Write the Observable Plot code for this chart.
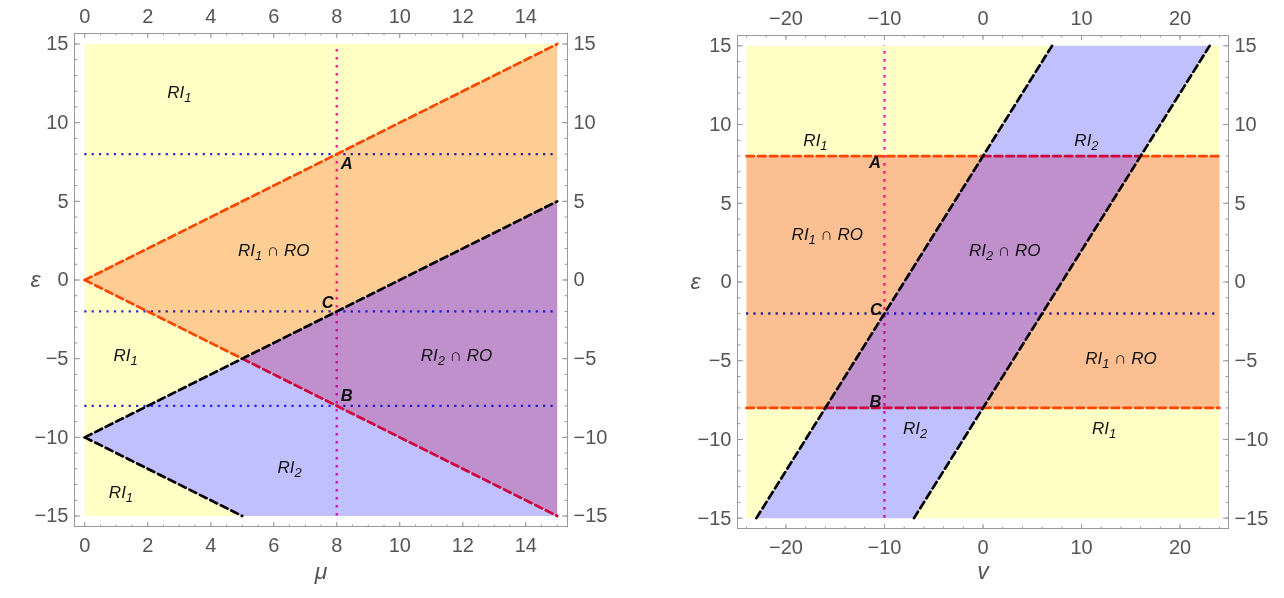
<!DOCTYPE html>
<html>
<head>
<meta charset="utf-8">
<script src="https://cdn.jsdelivr.net/npm/d3@7"></script>
<script src="https://cdn.jsdelivr.net/npm/@observablehq/plot@0.6"></script>
<style>
  body { margin: 0; background: #fff; }
  #wrap { display: flex; width: 1284px; height: 598px; }
  #wrap > div { width: 642px; height: 598px; }
</style>
</head>
<body>
<div id="wrap"><div id="left"></div><div id="right"></div></div>
<script>
// ---------------- DATA ----------------
// Left panel (μ, ε)
const leftXDomain = [0, 15];
const leftYDomain = [-15, 15];
const leftXTicks = [0, 2, 4, 6, 8, 10, 12, 14];
const leftYTicks = [-15, -10, -5, 0, 5, 10, 15];
const leftXMinor = d3.range(0, 15.01, 0.5);
const leftYMinor = d3.range(-15, 15.01, 1);

const leftYellow = [[0, -15], [15, -15], [15, 15], [0, 15]];
const leftOrange = [[0, 0], [15, 15], [15, 5], [5, -5]];
const leftPurple = [[5, -5], [15, 5], [15, -15]];
const leftBlue = [[0, -10], [5, -5], [15, -15], [5, -15]];

const leftRedSegs = [[[0, 0], [15, 15]], [[0, 0], [5, -5]], [[5, -5], [15, -15]]];
const leftBlackSegs = [[[0, -10], [15, 5]], [[0, -10], [5, -15]]];
const leftDotH = [8, -2, -8];
const leftDotV = [8];
const leftPoints = [{name: "A", x: 8, y: 8}, {name: "B", x: 8, y: -8}, {name: "C", x: 8, y: -2}];
const leftLabels = [
  {text: "RI_1", x: 3.0, y: 11.9},
  {text: "RI_1 ∩ RO", x: 6.0, y: 1.9},
  {text: "RI_1", x: 1.3, y: -4.8},
  {text: "RI_2 ∩ RO", x: 11.8, y: -4.8},
  {text: "RI_2", x: 6.5, y: -11.9},
  {text: "RI_1", x: 1.15, y: -13.5}
];

// Right panel (v, ε)
const rightXDomain = [-24, 24];
const rightYDomain = [-15, 15];
const rightXTicks = [-20, -10, 0, 10, 20];
const rightYTicks = [-15, -10, -5, 0, 5, 10, 15];
const rightXMinor = d3.range(-24, 24.01, 2);
const rightYMinor = d3.range(-15, 15.01, 1);

const rightYellow = [[-24, -15], [24, -15], [24, 15], [-24, 15]];
const rightOrange = [[-24, -8], [24, -8], [24, 8], [-24, 8]];
const rightBlue = [[-23, -15], [-7, -15], [23, 15], [7, 15]];
const rightPurple = [[-16, -8], [0, -8], [16, 8], [0, 8]];

const rightRedSegs = [
  [[-24, 8], [0, 8]], [[0, 8], [16, 8]], [[16, 8], [24, 8]],
  [[-24, -8], [-16, -8]], [[-16, -8], [0, -8]], [[0, -8], [24, -8]]
];
const rightBlackSegs = [[[-23, -15], [7, 15]], [[-7, -15], [23, 15]]];
const rightDotH = [-2];
const rightDotV = [-10];
const rightPoints = [{name: "A", x: -10, y: 8}, {name: "B", x: -10, y: -8}, {name: "C", x: -10, y: -2}];
const rightLabels = [
  {text: "RI_1", x: -17, y: 9},
  {text: "RI_2", x: 10.5, y: 9},
  {text: "RI_1 ∩ RO", x: -15.8, y: 3.0},
  {text: "RI_2 ∩ RO", x: 2.2, y: 2.0},
  {text: "RI_1 ∩ RO", x: 14, y: -4.85},
  {text: "RI_2", x: -6.9, y: -9.3},
  {text: "RI_1", x: 12.3, y: -9.3}
];

// ---------------- STYLE ----------------
const C = {
  yellow: "#ffffc6",
  orangeL: "#fecd94",
  orangeR: "#fcbf91",
  blue: "#c0c0ff",
  purple: "#c090cc",
  red: "#ff4500",
  crimson: "#d0003c",
  black: "#000000",
  dotBlue: "#2a2aff",
  dotMag: "#ff1cc8",
  frame: "#9a9a9a",
  tick: "#555555"
};
const FONT = "'Liberation Sans', Arial, Helvetica, sans-serif";

const leftStyle = {
  margins: {marginLeft: 74, marginRight: 75, marginTop: 33, marginBottom: 72},
  insetX: 10.25, insetY: 10.5,
  polys: [[leftYellow, C.yellow], [leftOrange, C.orangeL], [leftPurple, C.purple], [leftBlue, C.blue]],
  redColors: [C.red, C.red, C.crimson],
  pointOffsets: {A: [10, 10], B: [10, -10], C: [-9, -9]},
  yLabel: "ε", yLabelDx: -44, xLabel: "μ", xLabelDy: 52
};
const rightStyle = {
  margins: {marginLeft: 95, marginRight: 56, marginTop: 35, marginBottom: 70},
  insetX: 9, insetY: 10.35,
  polys: [[rightYellow, C.yellow], [rightOrange, C.orangeR], [rightBlue, C.blue], [rightPurple, C.purple]],
  redColors: [C.red, C.crimson, C.red, C.red, C.crimson, C.red],
  pointOffsets: {A: [-9.5, 7], B: [-9, -6.5], C: [-8.5, -4]},
  yLabel: "ε", yLabelDx: -47, xLabel: "v", xLabelDy: 50
};

function toPts(arr) { return arr.map(([x, y]) => ({x, y})); }

function panel(d, s) {
  const W = 642, H = 598;
  const m = s.margins;
  const fw = W - m.marginLeft - m.marginRight;
  const fh = H - m.marginTop - m.marginBottom;
  const marks = [];
  // regions
  for (const [poly, col] of s.polys) {
    marks.push(Plot.line(toPts(poly), {x: "x", y: "y", fill: col, stroke: "none"}));
  }
  // dotted guide lines
  marks.push(Plot.ruleY(d.dotH, {y: v => v, x1: d.xDomain[0], x2: d.xDomain[1],
    stroke: C.dotBlue, strokeWidth: 2.3, strokeDasharray: "2.2,5.2", mixBlendMode: "multiply"}));
  marks.push(Plot.ruleX(d.dotV, {x: v => v, y1: d.yDomain[0], y2: d.yDomain[1],
    stroke: C.dotMag, strokeWidth: 2.3, strokeDasharray: "2.6,5.4", mixBlendMode: "multiply"}));
  // dashed boundaries
  d.redSegs.forEach((seg, i) => {
    marks.push(Plot.line(toPts(seg), {x: "x", y: "y", stroke: s.redColors[i], strokeWidth: 2.7, strokeDasharray: "7.5,4.2"}));
  });
  d.blackSegs.forEach(seg => {
    marks.push(Plot.line(toPts(seg), {x: "x", y: "y", stroke: C.black, strokeWidth: 2.7, strokeDasharray: "7.5,4.2"}));
  });
  // region labels
  marks.push(Plot.text(d.labels, {x: "x", y: "y", text: "text", fontSize: 17, fontStyle: "italic",
    fill: "#111", ariaDescription: "region label"}));
  // point labels, one mark per point for its own offset
  for (const p of d.points) {
    const [ox, oy] = s.pointOffsets[p.name];
    marks.push(Plot.text([p], {x: "x", y: "y", text: "name", fontSize: 16.5, fontStyle: "italic",
      fontWeight: "bold", fill: "#111", dx: ox, dy: oy}));
  }
  // frame
  marks.push(Plot.frame({stroke: C.frame, strokeWidth: 1}));
  // inward ticks (major and minor) on all sides
  const tk = {stroke: C.frame, tickFormat: () => "", label: null};
  marks.push(Plot.axisX({...tk, anchor: "bottom", dy: -fh, ticks: d.xTicks, tickSize: 5}));
  marks.push(Plot.axisX({...tk, anchor: "bottom", dy: -fh, ticks: d.xMinor, tickSize: 2.5}));
  marks.push(Plot.axisX({...tk, anchor: "top", dy: fh, ticks: d.xTicks, tickSize: 5}));
  marks.push(Plot.axisX({...tk, anchor: "top", dy: fh, ticks: d.xMinor, tickSize: 2.5}));
  marks.push(Plot.axisY({...tk, anchor: "right", dx: -fw, ticks: d.yTicks, tickSize: 5}));
  marks.push(Plot.axisY({...tk, anchor: "right", dx: -fw, ticks: d.yMinor, tickSize: 2.5}));
  marks.push(Plot.axisY({...tk, anchor: "left", dx: fw, ticks: d.yTicks, tickSize: 5}));
  marks.push(Plot.axisY({...tk, anchor: "left", dx: fw, ticks: d.yMinor, tickSize: 2.5}));
  // tick labels
  const tl = {tickSize: 0, fontSize: 20, fill: C.tick, label: null};
  marks.push(Plot.axisX({...tl, anchor: "top", ticks: d.xTicks, tickPadding: 11}));
  marks.push(Plot.axisX({...tl, anchor: "bottom", ticks: d.xTicks, tickPadding: 11}));
  marks.push(Plot.axisY({...tl, anchor: "left", ticks: d.yTicks, tickPadding: 6}));
  marks.push(Plot.axisY({...tl, anchor: "right", ticks: d.yTicks, tickPadding: 6}));
  // axis names
  marks.push(Plot.text([s.yLabel], {frameAnchor: "left", dx: s.yLabelDx, fontSize: 23, fontStyle: "italic", fill: C.tick}));
  marks.push(Plot.text([s.xLabel], {frameAnchor: "bottom", dy: s.xLabelDy, fontSize: 23, fontStyle: "italic", fill: C.tick}));

  const chart = Plot.plot({
    width: W, height: H, ...m,
    style: {fontFamily: FONT, background: "white", overflow: "visible"},
    x: {domain: d.xDomain, inset: s.insetX, axis: null},
    y: {domain: d.yDomain, inset: s.insetY, axis: null},
    marks
  });

  // subscripts in region labels
  d3.select(chart).selectAll('g[aria-description="region label"] text').each(function() {
    const t = this.textContent;
    const parts = t.split(/_(\d)/);
    const el = d3.select(this);
    el.text(null);
    parts.forEach((p, i) => {
      if (p === "") return;
      const ts = el.append("tspan").text(p);
      if (i % 2 === 1) {
        ts.attr("font-size", "13").attr("dy", "4");
      } else if (i > 0) {
        ts.attr("dy", "-4");
      }
    });
  });
  return chart;
}

document.getElementById("left").appendChild(panel({
  xDomain: leftXDomain, yDomain: leftYDomain, xTicks: leftXTicks, yTicks: leftYTicks,
  xMinor: leftXMinor, yMinor: leftYMinor, redSegs: leftRedSegs, blackSegs: leftBlackSegs,
  dotH: leftDotH, dotV: leftDotV, points: leftPoints, labels: leftLabels
}, leftStyle));
document.getElementById("right").appendChild(panel({
  xDomain: rightXDomain, yDomain: rightYDomain, xTicks: rightXTicks, yTicks: rightYTicks,
  xMinor: rightXMinor, yMinor: rightYMinor, redSegs: rightRedSegs, blackSegs: rightBlackSegs,
  dotH: rightDotH, dotV: rightDotV, points: rightPoints, labels: rightLabels
}, rightStyle));
</script>
</body>
</html>
